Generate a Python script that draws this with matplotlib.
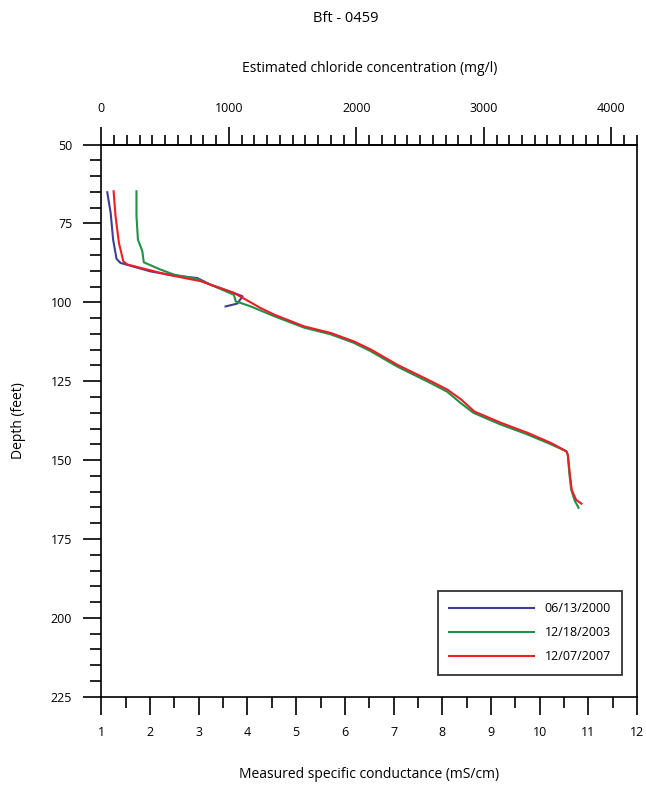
import matplotlib
matplotlib.use('Agg')
import matplotlib.pyplot as plt
from matplotlib.ticker import MultipleLocator, FixedLocator
import numpy as np

plt.rcParams['font.family'] = ['Open Sans', 'DejaVu Sans']

# Profiles: specific conductance (mS/cm) vs depth (feet)
cond_2000 = [1.12, 1.19, 1.24, 1.31, 1.39, 2.01, 2.49, 2.97, 3.24, 3.72, 3.90, 3.79, 3.55]
depth_2000 = [65.1, 71.7, 80.1, 86.2, 87.5, 90.2, 91.5, 92.3, 94.4, 97.0, 98.1, 100.4, 101.3]

cond_2003 = [1.72, 1.72, 1.75, 1.84, 1.87, 2.21, 2.49, 2.97, 3.72, 3.76, 3.86, 4.07, 4.55,
             5.16, 5.70, 6.18, 6.52, 7.07, 7.75, 8.10, 8.37, 8.64, 9.18, 9.74, 10.22,
             10.55, 10.58, 10.61, 10.65, 10.72, 10.80]
depth_2003 = [64.8, 72.7, 80.1, 83.8, 87.3, 89.6, 91.2, 92.6, 97.6, 99.7, 100.2, 101.3, 104.4,
              108.0, 110.1, 112.8, 115.4, 120.3, 125.5, 128.3, 131.8, 135.0, 138.6, 141.8, 144.9,
              147.2, 148.3, 154.1, 159.4, 162.8, 165.1]

cond_2007 = [1.25, 1.29, 1.36, 1.45, 1.53, 2.35, 3.04, 3.72, 4.27, 4.55, 5.16, 5.71, 6.19,
             6.54, 7.08, 7.77, 8.11, 8.39, 8.66, 9.21, 9.76, 10.24, 10.55, 10.58, 10.62,
             10.66, 10.75, 10.86]
depth_2007 = [64.8, 72.7, 81.2, 87.0, 88.0, 91.2, 93.3, 97.0, 101.8, 103.9, 107.6, 109.7, 112.4,
              115.0, 119.8, 125.0, 127.7, 130.8, 134.6, 138.2, 141.4, 144.6, 147.2, 148.3, 154.1,
              159.4, 162.6, 163.8]

labels = ['06/13/2000', '12/18/2003', '12/07/2007']
colors = ['#3c3f95', '#1f9247', '#ee1c25']

# chloride (mg/l) estimated from conductance
cl_factor = 382.0
cl_ticks = [0, 1000, 2000, 3000, 4000]

fig = plt.figure(figsize=(6.46, 7.90), dpi=100)
ax = fig.add_axes([0.157, 0.118, 0.829, 0.699])

ax.plot(cond_2000, depth_2000, color=colors[0], lw=1.5, label=labels[0])
ax.plot(cond_2003, depth_2003, color=colors[1], lw=1.5, label=labels[1])
ax.plot(cond_2007, depth_2007, color=colors[2], lw=1.5, label=labels[2])

ax.set_xlim(1, 12)
ax.set_ylim(225, 50)

ax.xaxis.set_major_locator(MultipleLocator(1))
ax.xaxis.set_minor_locator(MultipleLocator(0.5))
ax.yaxis.set_major_locator(MultipleLocator(25))
ax.yaxis.set_minor_locator(MultipleLocator(5))

for sp in ax.spines.values():
    sp.set_linewidth(1.2)

ax.tick_params(which='major', direction='out', length=13, width=1.2, labelsize=9, pad=8)
ax.tick_params(which='minor', direction='out', length=8, width=1.2)
ax.tick_params(axis='x', which='both', top=False)
ax.tick_params(axis='y', which='both', right=False)

ax.set_xlabel('Measured specific conductance (mS/cm)', fontsize=10, labelpad=20)
ax.set_ylabel('Depth (feet)', fontsize=10, labelpad=18)

secax = ax.secondary_xaxis('top', functions=(lambda c: (c - 1) * cl_factor,
                                             lambda m: m / cl_factor + 1))
secax.xaxis.set_major_locator(FixedLocator(cl_ticks))
secax.xaxis.set_minor_locator(FixedLocator(np.arange(100, 4201, 100)))
secax.spines['top'].set_linewidth(1.2)
secax.tick_params(which='major', direction='out', length=13, width=1.2, labelsize=9, pad=8)
secax.tick_params(which='minor', direction='out', length=7, width=1.2)
secax.set_xlabel('Estimated chloride concentration (mg/l)', fontsize=10, labelpad=22)

leg = ax.legend(loc='lower right', bbox_to_anchor=(0.972, 0.04), fontsize=9,
                handlelength=6.8, handletextpad=0.8, labelspacing=0.9,
                fancybox=False, edgecolor='black', borderpad=0.9, borderaxespad=0)
leg.get_frame().set_linewidth(1.3)

fig.text(0.535, 0.977, 'Bft - 0459', ha='center', va='center', fontsize=10.5)

fig.savefig('out.png', dpi=100)
